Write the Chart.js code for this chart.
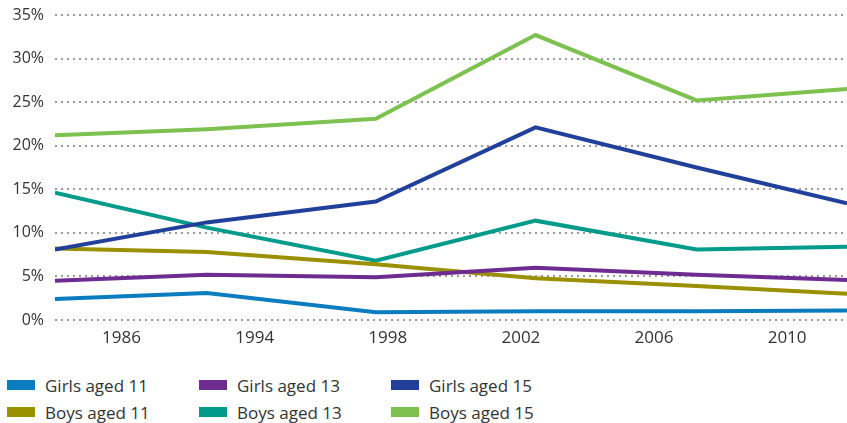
<!DOCTYPE html>
<html>
<head>
<meta charset="utf-8">
<script src="https://cdn.jsdelivr.net/npm/chart.js@4.4.0/dist/chart.umd.min.js"></script>
<style>
  html, body { margin: 0; padding: 0; background: #fff; }
  body { width: 847px; height: 423px; overflow: hidden; font-family: 'Open Sans', sans-serif; }
  #wrap { position: relative; width: 847px; height: 350px; }
  #legend {
    position: absolute; left: 7px; top: 374px;
    display: grid; grid-template-columns: 192px 192px 192px; row-gap: 5px;
    color: #333; font-size: 17px;
  }
  #legend span.item { display: flex; align-items: center; height: 22px; white-space: nowrap; }
  #legend .swatch { display: inline-block; width: 28px; height: 10px; margin-right: 10px; }
</style>
</head>
<body>
<div id="wrap"><canvas id="chart"></canvas></div>
<div id="legend"></div>
<script>
// x positions of the survey points, in tick-slot units along the axis
const pointX = [0, 1.14, 2.41, 3.61, 4.82, 5.95];
const tickLabels = ['1986', '1994', '1998', '2002', '2006', '2010'];
const tickPos = [0.5, 1.5, 2.5, 3.5, 4.5, 5.5];

const seriesNames = ['Girls aged 11', 'Girls aged 13', 'Girls aged 15', 'Boys aged 11', 'Boys aged 13', 'Boys aged 15'];
const seriesColors = ['#0b7dbf', '#6f2c90', '#21409a', '#9a9000', '#009b8a', '#7dc250'];

const girls11 = [2.4, 3.1, 0.9, 1.0, 1.0, 1.1];
const girls13 = [4.5, 5.2, 4.9, 6.0, 5.2, 4.6];
const girls15 = [8.1, 11.2, 13.6, 22.1, 17.5, 13.4];
const boys11 = [8.2, 7.8, 6.4, 4.8, 3.9, 3.0];
const boys13 = [14.6, 10.6, 6.8, 11.4, 8.1, 8.4];
const boys15 = [21.2, 21.9, 23.1, 32.7, 25.2, 26.5];

const seriesValues = [girls11, girls13, girls15, boys11, boys13, boys15];

const datasets = seriesNames.map((name, i) => ({
  label: name,
  data: seriesValues[i].map((v, j) => ({ x: pointX[j], y: v })),
  borderColor: seriesColors[i],
  backgroundColor: seriesColors[i],
  borderWidth: 4,
  pointRadius: 0,
  tension: 0,
  fill: false,
}));

new Chart(document.getElementById('chart'), {
  type: 'line',
  data: { datasets },
  options: {
    responsive: true,
    maintainAspectRatio: false,
    animation: false,
    layout: { padding: { top: 15, right: 0, bottom: 0, left: 0 } },
    scales: {
      x: {
        type: 'linear',
        min: 0,
        max: pointX[pointX.length - 1],
        afterBuildTicks(scale) {
          scale.ticks = tickPos.map((v) => ({ value: v }));
        },
        afterFit(scale) {
          scale.height = 30;
          scale.paddingLeft = 0;
          scale.paddingRight = 0;
        },
        ticks: {
          color: '#333',
          font: { family: "'Open Sans', sans-serif", size: 17 },
          padding: 0,
          maxRotation: 0,
          autoSkip: false,
          callback: (v) => tickLabels[tickPos.indexOf(v)],
        },
        grid: { display: false },
        border: { display: false },
      },
      y: {
        min: 0,
        max: 35,
        afterFit(scale) {
          scale.width = 55;
          scale.paddingTop = 0;
          scale.paddingBottom = 0;
        },
        ticks: {
          stepSize: 5,
          color: '#333',
          font: { family: "'Open Sans', sans-serif", size: 16 },
          padding: 11,
          callback: (v) => `${v}%`,
        },
        grid: { color: '#9a9a9a', lineWidth: 2, drawTicks: false },
        border: { display: false, dash: [2, 4] },
      },
    },
    plugins: {
      legend: { display: false },
      tooltip: { enabled: false },
    },
  },
});

const legendEl = document.getElementById('legend');
seriesNames.forEach((name, i) => {
  const span = document.createElement('span');
  span.className = 'item';
  span.innerHTML = `<span class="swatch" style="background:${seriesColors[i]}"></span>${name}`;
  legendEl.appendChild(span);
});
</script>
</body>
</html>
